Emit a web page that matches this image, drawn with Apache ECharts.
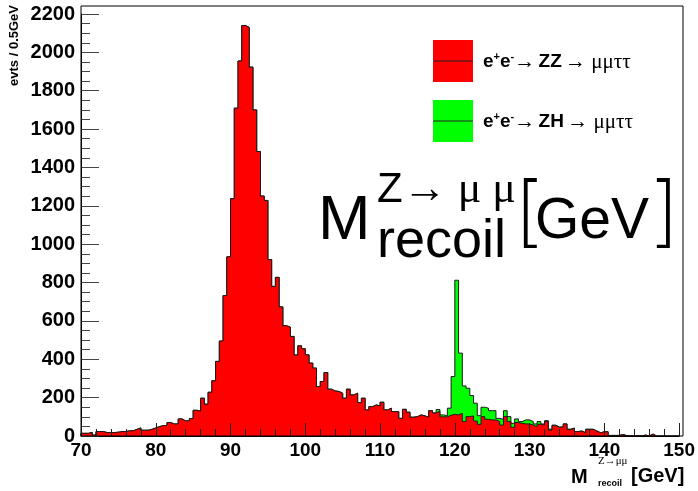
<!DOCTYPE html>
<html><head><meta charset="utf-8">
<script src="https://cdn.jsdelivr.net/npm/echarts@6/dist/echarts.min.js"></script>
<style>html,body{margin:0;padding:0;background:#fff}#c{width:698px;height:491px}</style>
</head><body><div id="c"></div>
<script>
// ---- data ----
const binLow = 70;
const binWidth = 0.5;
const zzCounts = [
  14,14,19,5,23,23,18,18,18,20,
  23,23,27,27,35,42,30,30,35,42,
  49,54,54,70,63,63,89,79,79,91,
  134,130,197,166,228,288,389,495,732,934,
  1237,1709,1955,2140,2130,1923,1700,1483,1251,1228,
  920,780,827,673,575,568,519,422,470,455,
  423,380,354,258,284,331,244,235,232,223,
  197,244,214,223,174,197,136,153,162,157,
  176,136,145,127,127,92,139,124,98,101,
  110,105,98,132,120,130,100,100,108,113,
  110,118,75,101,105,78,61,101,87,84,
  84,75,57,101,75,45,70,66,63,63,
  57,47,61,57,75,31,54,45,47,63,
  33,40,23,26,17,35,35,26,17,22,
  22,3,3,3,8,2,2,0,2,0,
  5,0,10,0,0,0,0,0,0,0
];
const zhCounts = [
  0,0,0,0,0,0,0,0,0,0,
  0,0,0,0,0,0,0,0,0,0,
  0,0,0,0,0,0,0,0,0,0,
  0,0,0,0,0,0,0,0,0,0,
  0,0,0,0,0,0,0,0,0,0,
  0,0,0,0,0,0,0,0,0,0,
  0,0,0,0,0,0,0,0,0,0,
  0,0,0,0,0,0,0,0,0,0,
  0,0,0,0,0,0,0,0,0,0,
  0,0,0,0,0,8,10,6,37,197,
  702,314,186,148,106,93,45,49,58,48,
  48,17,30,31,26,21,19,9,21,21,
  18,16,14,6,5,5,3,2,0,0,
  3,2,0,0,0,0,0,0,0,0,
  0,0,0,0,0,0,0,0,0,0,
  0,0,0,0,0,0,0,0,0,0
];
const xMin = 70, xMax = 150, xStep = 10;
const yMin = 0, yMax = 2200, yStep = 200;
const legendLabels = ['ZZ', 'ZH'];

// ---- build ----
const totals = zzCounts.map((v, i) => v + zhCounts[i]);
function steps(vals) {
  const pts = [[binLow, 0]];
  vals.forEach((v, i) => {
    pts.push([binLow + i * binWidth, v]);
    pts.push([binLow + (i + 1) * binWidth, v]);
  });
  pts.push([binLow + vals.length * binWidth, 0]);
  return pts;
}
const chart = echarts.init(document.getElementById('c'), null, { renderer: 'canvas' });
const G = { left: 81, top: 14, right: 18.5, bottom: 55 };
const sans = 'Liberation Sans';
const serif = 'Liberation Serif';
chart.setOption({
  animation: false,
  backgroundColor: '#fff',
  grid: { left: G.left, top: G.top, right: G.right, bottom: G.bottom, containLabel: false },
  xAxis: {
    type: 'value', min: xMin, max: xMax, interval: xStep, z: 10,
    axisLine: { show: true, lineStyle: { color: '#000', width: 1 } },
    axisTick: { show: true, inside: true, length: 13, lineStyle: { color: '#222' } },
    minorTick: { show: true, splitNumber: 5, length: 7, lineStyle: { color: '#222' } },
    splitLine: { show: false },
    axisLabel: { color: '#000', fontFamily: sans, fontWeight: 'bold', fontSize: 19, margin: 5,
      formatter: v => String(v) }
  },
  yAxis: {
    type: 'value', min: yMin, max: yMax, interval: yStep, z: 10,
    axisLine: { show: true, lineStyle: { color: '#000', width: 1 } },
    axisTick: { show: true, inside: true, length: 18, lineStyle: { color: '#444' } },
    minorTick: { show: true, splitNumber: 4, length: 9, lineStyle: { color: '#444' } },
    splitLine: { show: false },
    axisLabel: { color: '#000', fontFamily: sans, fontWeight: 'bold', fontSize: 20, margin: 6,
      formatter: v => String(v) }
  },
  series: [
    { type: 'line', name: legendLabels[1], data: steps(totals), showSymbol: false, z: 1, silent: true,
      lineStyle: { color: '#1a1a1a', width: 1 }, areaStyle: { color: '#00ff00', opacity: 1 } },
    { type: 'line', name: legendLabels[0], data: steps(zzCounts), showSymbol: false, z: 2, silent: true,
      lineStyle: { color: '#1a1a1a', width: 1 }, areaStyle: { color: '#ff0000', opacity: 1 } }
  ],
  graphic: [
    { type: 'rect', z: 100, silent: true, shape: { x: 81, y: 6, width: 602, height: 430 },
      style: { fill: null, stroke: '#000', lineWidth: 1 } },
    // y axis title
    { type: 'text', z: 100, x: 14, y: 5, rotation: Math.PI / 2,
      style: { text: 'evts / 0.5GeV', font: 'bold 13px ' + sans, fill: '#000', align: 'right', verticalAlign: 'middle' } },
    // x axis title
    { type: 'text', z: 100, x: 571, y: 477,
      style: { text: 'M', font: 'bold 20px ' + sans, fill: '#000', align: 'left', verticalAlign: 'middle' } },
    { type: 'text', z: 100, x: 598, y: 461,
      style: { text: 'Z→μμ', font: '11px ' + serif, fill: '#000', align: 'left', verticalAlign: 'middle' } },
    { type: 'text', z: 100, x: 598, y: 484,
      style: { text: 'recoil', font: 'bold 9px ' + sans, fill: '#000', align: 'left', verticalAlign: 'middle' } },
    { type: 'text', z: 100, x: 631, y: 476,
      style: { text: '[GeV]', font: 'bold 20px ' + sans, fill: '#000', align: 'left', verticalAlign: 'middle' } },
    // legend
    { type: 'rect', z: 100, shape: { x: 433, y: 40, width: 40, height: 42 }, style: { fill: '#ff0000' } },
    { type: 'line', z: 101, shape: { x1: 433, y1: 61, x2: 473, y2: 61 }, style: { stroke: '#222', lineWidth: 1 } },
    { type: 'rect', z: 100, shape: { x: 433, y: 100, width: 40, height: 42 }, style: { fill: '#00ff00' } },
    { type: 'line', z: 101, shape: { x1: 433, y1: 121, x2: 473, y2: 121 }, style: { stroke: '#222', lineWidth: 1 } },
    { type: 'text', z: 100, x: 483, y: 62,
      style: { text: '{b|e}{sup|+}{b|e}{sup|-}{s|→} {b|' + legendLabels[0] + '} {s|→ μμττ}',
        fill: '#000', align: 'left', verticalAlign: 'middle',
        rich: { b: { font: 'bold 19px ' + sans, lineHeight: 22 }, sup: { font: 'bold 11px ' + sans, verticalAlign: 'top', lineHeight: 22 },
                s: { font: '21px ' + serif, lineHeight: 22 } } } },
    { type: 'text', z: 100, x: 483, y: 122,
      style: { text: '{b|e}{sup|+}{b|e}{sup|-}{s|→} {b|' + legendLabels[1] + '} {s|→ μμττ}',
        fill: '#000', align: 'left', verticalAlign: 'middle',
        rich: { b: { font: 'bold 19px ' + sans, lineHeight: 22 }, sup: { font: 'bold 11px ' + sans, verticalAlign: 'top', lineHeight: 22 },
                s: { font: '21px ' + serif, lineHeight: 22 } } } },
    // big annotation
    { type: 'text', z: 100, x: 318, y: 222,
      style: { text: 'M', font: '63px ' + sans, fill: '#000', align: 'left', verticalAlign: 'middle' } },
    { type: 'text', z: 100, x: 377, y: 190,
      style: { text: '{z|Z}{g|→ μ μ}', fill: '#000', align: 'left', verticalAlign: 'middle',
        rich: { z: { font: '42px ' + sans, lineHeight: 44 }, g: { font: '44px ' + serif, lineHeight: 44 } } } },
    { type: 'text', z: 100, x: 377, y: 242,
      style: { text: 'recoil', font: '54px ' + sans, fill: '#000', align: 'left', verticalAlign: 'middle' } },
    { type: 'text', z: 100, x: 515, y: 218,
      style: { text: '[', font: '200 78px "DejaVu Sans"', fill: '#000', align: 'left', verticalAlign: 'middle' } },
    { type: 'text', z: 100, x: 535, y: 222,
      style: { text: 'GeV', font: '57px ' + sans, fill: '#000', align: 'left', verticalAlign: 'middle' } },
    { type: 'text', z: 100, x: 648, y: 218,
      style: { text: ']', font: '200 78px "DejaVu Sans"', fill: '#000', align: 'left', verticalAlign: 'middle' } }
  ]
});
</script>
</body></html>
